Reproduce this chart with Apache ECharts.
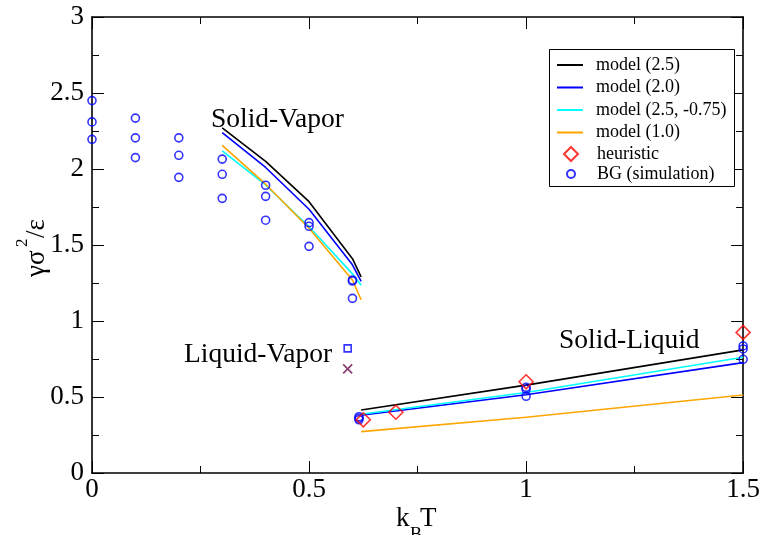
<!DOCTYPE html>
<html>
<head>
<meta charset="utf-8">
<script src="https://cdn.jsdelivr.net/npm/echarts@6/dist/echarts.min.js"></script>
<style>
  html, body { margin: 0; padding: 0; background: #fff; }
  #chart { width: 763px; height: 535px; }
</style>
</head>
<body>
<div id="chart"></div>
<script>
// Surface tension vs temperature: model curves, heuristic estimates, BG simulation data

// Tick values
const xTicks = [0, 0.5, 1, 1.5];
const yTicks = [0, 0.5, 1, 1.5, 2, 2.5, 3];

// Model curves, solid-vapor branch
const svT = [0.3, 0.4, 0.5, 0.6, 0.62];
const svModel25 = [2.27, 2.05, 1.785, 1.41, 1.29];
const svModel20 = [2.24, 2.01, 1.735, 1.37, 1.26];
const svModel25m = [2.12, 1.895, 1.62, 1.31, 1.235];
const svModel10 = [2.155, 1.90, 1.61, 1.27, 1.14];

// Model curves, solid-liquid branch
const slT = [0.62, 1.0, 1.5];
const slModel25 = [0.414, 0.578, 0.81];
const slModel20 = [0.38, 0.515, 0.726];
const slModel25m = [0.386, 0.53, 0.762];
const slModel10 = [0.272, 0.367, 0.513];

// Heuristic estimates
const heurT = [0.625, 0.7, 1.0, 1.5];
const heurG = [0.35, 0.40, 0.60, 0.925];

// BG simulation points
const bgT = [0, 0, 0, 0.1, 0.1, 0.1, 0.2, 0.2, 0.2, 0.3, 0.3, 0.3,
             0.4, 0.4, 0.4, 0.5, 0.5, 0.5, 0.6, 0.6, 0.6,
             0.615, 0.615, 0.615, 1.0, 1.0, 1.0, 1.5, 1.5, 1.5];
const bgG = [2.45, 2.31, 2.195, 2.335, 2.205, 2.075, 2.205, 2.09, 1.945, 2.065, 1.965, 1.807,
             1.893, 1.82, 1.663, 1.647, 1.623, 1.491, 1.27, 1.263, 1.149,
             0.37, 0.36, 0.35, 0.564, 0.551, 0.505, 0.836, 0.816, 0.748];

// Liquid-vapor points
const lvSquare = [0.589, 0.82];
const lvCross = [0.589, 0.685];

const FONT = '"Liberation Serif", "Times New Roman", serif';
const pairs = (xs, ys) => xs.map((x, i) => [x, ys[i]]);

const models = [
  { name: 'model (2.5)', color: '#000000', sv: svModel25, sl: slModel25 },
  { name: 'model (2.0)', color: '#0000ff', sv: svModel20, sl: slModel20 },
  { name: 'model (2.5, -0.75)', color: '#00ffff', sv: svModel25m, sl: slModel25m },
  { name: 'model (1.0)', color: '#ffa500', sv: svModel10, sl: slModel10 }
];

const series = [];
models.forEach(m => {
  [[svT, m.sv], [slT, m.sl]].forEach(([xs, ys]) => {
    series.push({
      name: m.name, type: 'line', data: pairs(xs, ys),
      symbol: 'none', showSymbol: false, clip: false,
      lineStyle: { color: m.color, width: 1.6 },
      itemStyle: { color: m.color },
      z: 2
    });
  });
});

series.push({
  name: 'heuristic', type: 'scatter', data: pairs(heurT, heurG),
  symbol: 'diamond', symbolSize: 14, clip: false,
  itemStyle: { color: 'rgba(0,0,0,0)', borderColor: '#ff0000', borderWidth: 1.6 },
  z: 4
});
series.push({
  name: 'BG (simulation)', type: 'scatter', data: pairs(bgT, bgG),
  symbol: 'circle', symbolSize: 8, clip: false,
  itemStyle: { color: 'rgba(0,0,0,0)', borderColor: '#0000ff', borderWidth: 1.6 },
  z: 3
});
series.push({
  name: 'liquid-vapor square', type: 'scatter', data: [lvSquare],
  symbol: 'rect', symbolSize: 7, clip: false,
  itemStyle: { color: 'rgba(0,0,0,0)', borderColor: '#0000ff', borderWidth: 1.6 },
  z: 3
});
series.push({
  name: 'liquid-vapor cross', type: 'scatter', data: [lvCross],
  symbol: 'path://M0,0L10,10M10,0L0,10', symbolSize: 9, clip: false,
  itemStyle: { color: 'none', borderColor: '#670748', borderWidth: 1.6 },
  z: 3
});

const tickCommon = {
  axisLine: { show: true, onZero: false, lineStyle: { color: '#000', width: 1.6 } },
  axisTick: { show: true, inside: true, length: 12, lineStyle: { color: '#000', width: 1 } },
  minorTick: { show: true, splitNumber: 2, length: 7, lineStyle: { color: '#000', width: 1 } },
  splitLine: { show: false }
};

const labelStyle = { fontFamily: FONT, fontSize: 27, color: '#000' };
const legendText = { fontFamily: FONT, fontSize: 18, color: '#000' };

const option = {
  backgroundColor: '#fff',
  animation: false,
  grid: { left: 92, right: 17, top: 17, bottom: 62 },
  xAxis: [
    Object.assign({
      type: 'value', position: 'bottom', min: xTicks[0], max: xTicks[xTicks.length - 1],
      interval: xTicks[1] - xTicks[0],
      axisLabel: Object.assign({ margin: 3 }, labelStyle)
    }, tickCommon),
    Object.assign({
      type: 'value', position: 'top', min: xTicks[0], max: xTicks[xTicks.length - 1],
      interval: xTicks[1] - xTicks[0], axisLabel: { show: false }
    }, tickCommon)
  ],
  yAxis: [
    Object.assign({
      type: 'value', position: 'left', min: yTicks[0], max: yTicks[yTicks.length - 1],
      interval: yTicks[1] - yTicks[0],
      axisLabel: Object.assign({ margin: 8 }, labelStyle)
    }, tickCommon),
    Object.assign({
      type: 'value', position: 'right', min: yTicks[0], max: yTicks[yTicks.length - 1],
      interval: yTicks[1] - yTicks[0], axisLabel: { show: false }
    }, tickCommon)
  ],
  legend: [
    {
      // thin rectangles stand in for the line samples
      data: models.map(m => ({ name: m.name, icon: 'rect' })),
      orient: 'vertical', left: 557, top: 56, padding: 0,
      itemWidth: 26, itemHeight: 2, itemGap: 4.5, selectedMode: false,
      textStyle: Object.assign({ padding: [0, 0, 0, 8] }, legendText)
    },
    {
      data: [{ name: 'heuristic', icon: 'diamond' }],
      orient: 'vertical', left: 563, top: 145, padding: 0,
      itemWidth: 14, itemHeight: 14, selectedMode: false,
      textStyle: Object.assign({ padding: [0, 0, 0, 14] }, legendText)
    },
    {
      data: [{ name: 'BG (simulation)', icon: 'circle' }],
      orient: 'vertical', left: 566, top: 165, padding: 0,
      itemWidth: 8, itemHeight: 8, selectedMode: false,
      textStyle: Object.assign({ padding: [0, 0, 0, 17] }, legendText)
    }
  ],
  graphic: [
    {
      type: 'rect', shape: { x: 549.5, y: 49.5, width: 185, height: 137 },
      style: { fill: '#fff', stroke: '#000', lineWidth: 1 }, z: 5, silent: true
    },
    { type: 'text', x: 211, y: 120, z: 6,
      style: { text: 'Solid-Vapor', font: '27.5px ' + FONT, fill: '#000', verticalAlign: 'middle' } },
    { type: 'text', x: 184, y: 355, z: 6,
      style: { text: 'Liquid-Vapor', font: '27.5px ' + FONT, fill: '#000', verticalAlign: 'middle' } },
    { type: 'text', x: 559, y: 341, z: 6,
      style: { text: 'Solid-Liquid', font: '27.5px ' + FONT, fill: '#000', verticalAlign: 'middle' } },
    // x-axis title: k_B T
    { type: 'text', x: 396, y: 519, z: 6,
      style: { text: 'k', font: '27px ' + FONT, fill: '#000', verticalAlign: 'middle' } },
    { type: 'text', x: 410, y: 535, z: 6,
      style: { text: 'B', font: '18px ' + FONT, fill: '#000', verticalAlign: 'middle' } },
    { type: 'text', x: 420, y: 519, z: 6,
      style: { text: 'T', font: '27px ' + FONT, fill: '#000', verticalAlign: 'middle' } },
    // y-axis title: γσ²/ε, rotated
    {
      type: 'group', x: 37, y: 277, rotation: Math.PI / 2, z: 6,
      children: [
        { type: 'text', x: 0, y: 0,
          style: { text: 'γσ', font: '27px ' + FONT, fill: '#000', verticalAlign: 'middle' } },
        { type: 'text', x: 30, y: -14,
          style: { text: '2', font: '17px ' + FONT, fill: '#000', verticalAlign: 'middle' } },
        { type: 'text', x: 39, y: 0,
          style: { text: '/ε', font: '27px ' + FONT, fill: '#000', verticalAlign: 'middle' } }
      ]
    }
  ],
  series: series
};

// legend boxes sit above the border rectangle
option.legend.forEach(l => { l.z = 10; });

const chart = echarts.init(document.getElementById('chart'), null, { renderer: 'canvas' });
chart.setOption(option);
</script>
</body>
</html>
